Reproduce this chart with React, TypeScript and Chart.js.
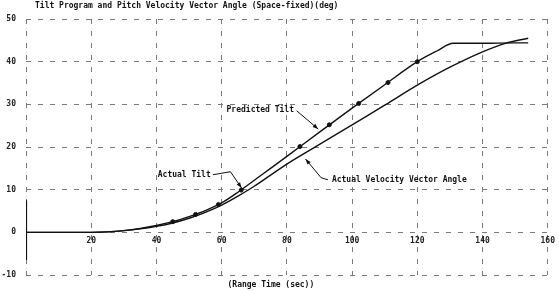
import React, { useEffect, useRef } from 'react';
import { Chart, registerables } from 'chart.js';
Chart.register(...registerables);

// Range time (sec) and angles (deg)
const tiltTime = [0, 10, 20, 25, 30, 35, 40, 45, 50, 55, 60, 65, 70, 75, 80, 90, 100, 110, 120, 126, 131, 140, 150, 154];
const predictedTilt = [0, 0, 0, 0.1, 0.4, 0.9, 1.6, 2.5, 3.7, 5.1, 6.9, 9.4, 12.2, 15.0, 17.8, 23.5, 29.1, 34.6, 40.0, 42.5, 44.3, 44.3, 44.4, 44.4];

const velTime = [0, 20, 25, 30, 35, 40, 45, 50, 55, 60, 65, 70, 75, 80, 90, 100, 110, 120, 130, 140, 147, 154];
const velocityAngle = [0, 0, 0.1, 0.4, 0.8, 1.4, 2.2, 3.3, 4.7, 6.4, 8.5, 10.8, 13.4, 16.0, 20.6, 25.2, 29.8, 34.5, 38.7, 42.3, 44.3, 45.5];

const actualTiltTime = [45, 52, 59, 66, 84, 93, 102, 111, 120];
const actualTilt = [2.5, 4.2, 6.5, 9.9, 20.1, 25.2, 30.2, 35.1, 40.0];

const liftoffMarkTime = [0, 0];
const liftoffMarkAngle = [7.5, -6.5];

const yTicks = [-10, 0, 10, 20, 30, 40, 50];
const xTicks = [0, 20, 40, 60, 80, 100, 120, 140, 160];

const titleText = 'Tilt Program and Pitch Velocity Vector Angle (Space-fixed)(deg)';
const xTitleText = '(Range Time (sec))';

const FONT = "bold 8px 'DejaVu Sans Mono', monospace";

const zip = (xs: number[], ys: number[]) => xs.map((x, i) => ({ x, y: ys[i] }));

export default function App() {
  const ref = useRef<HTMLCanvasElement>(null);
  useEffect(() => {
    document.body.style.margin = '0';
    const canvas = ref.current!;

    const annotations = [
      { text: 'Predicted Tilt', at: [61.5, 28.7], path: [[83, 28.5], [89.6, 24.2]] },
      { text: 'Actual Tilt', at: [40.4, 13.5], path: [[57.3, 13.5], [62.7, 14.2], [66.1, 10.4]] },
      { text: 'Actual Velocity Vector Angle', at: [93.8, 12.3], path: [[92.6, 12.3], [90.5, 12.8], [85.7, 17.2]] },
    ];

    const annot = {
      id: 'annot',
      afterDatasetsDraw(chart: any) {
        const { ctx, scales, chartArea } = chart;
        const xs = scales.x, ys = scales.y;
        ctx.save();
        ctx.fillStyle = '#111';
        ctx.strokeStyle = '#111';
        ctx.font = FONT;
        ctx.textBaseline = 'middle';
        ctx.textAlign = 'left';
        ctx.fillText(titleText, 35, 6);
        ctx.textAlign = 'center';
        ctx.fillText(xTitleText, (chartArea.left + chartArea.right) / 2 - 16, chartArea.bottom + 10);
        ctx.textAlign = 'left';
        for (const a of annotations) {
          const tx = xs.getPixelForValue(a.at[0]);
          const ty = ys.getPixelForValue(a.at[1]);
          ctx.fillText(a.text, tx, ty);
          const pts = a.path.map((p) => [xs.getPixelForValue(p[0]), ys.getPixelForValue(p[1])]);
          ctx.lineWidth = 1;
          ctx.beginPath();
          ctx.moveTo(pts[0][0], pts[0][1]);
          for (let i = 1; i < pts.length; i++) ctx.lineTo(pts[i][0], pts[i][1]);
          ctx.stroke();
          const n = pts.length;
          const [x1, y1] = pts[n - 2];
          const [x2, y2] = pts[n - 1];
          const ang = Math.atan2(y2 - y1, x2 - x1);
          const L = 6, W = 0.35;
          ctx.beginPath();
          ctx.moveTo(x2, y2);
          ctx.lineTo(x2 - L * Math.cos(ang - W), y2 - L * Math.sin(ang - W));
          ctx.lineTo(x2 - L * Math.cos(ang + W), y2 - L * Math.sin(ang + W));
          ctx.closePath();
          ctx.fill();
        }
        ctx.restore();
      },
    };

    const chart = new Chart(canvas, {
      type: 'line',
      data: {
        datasets: [
          {
            label: 'Predicted Tilt',
            data: zip(tiltTime, predictedTilt),
            borderColor: '#111',
            borderWidth: 1.4,
            pointRadius: 0,
            cubicInterpolationMode: 'monotone',
            fill: false,
          },
          {
            label: 'Actual Velocity Vector Angle',
            data: zip(velTime, velocityAngle),
            borderColor: '#111',
            borderWidth: 1.4,
            pointRadius: 0,
            cubicInterpolationMode: 'monotone',
            fill: false,
          },
          {
            label: 'Actual Tilt',
            data: zip(actualTiltTime, actualTilt),
            showLine: false,
            pointRadius: 2,
            pointBackgroundColor: '#111',
            pointBorderColor: '#111',
          },
          {
            label: 'Liftoff',
            data: zip(liftoffMarkTime, liftoffMarkAngle),
            borderColor: '#111',
            borderWidth: 2.2,
            pointRadius: 0,
          },
        ],
      } as any,
      options: {
        animation: false,
        responsive: false,
        events: [],
        layout: { padding: { top: 19, bottom: 16, left: 0, right: 3 } },
        plugins: { legend: { display: false }, tooltip: { enabled: false }, title: { display: false } },
        scales: {
          x: {
            type: 'linear',
            min: 0,
            max: 160,
            position: { y: 0 } as any,
            afterBuildTicks: (s: any) => { s.ticks = xTicks.map((v) => ({ value: v })); },
            ticks: {
              autoSkip: false,
              maxRotation: 0,
              padding: 4,
              color: '#222',
              font: { family: "'DejaVu Sans Mono', monospace", size: 8, weight: 'bold' },
              callback: (v: any) => (v === 0 ? '' : String(v)),
            },
            grid: { color: '#7a7a7a', lineWidth: 1, drawTicks: false },
            border: { display: false, dash: [5, 7] },
          },
          y: {
            type: 'linear',
            min: -10,
            max: 50,
            afterBuildTicks: (s: any) => { s.ticks = yTicks.map((v) => ({ value: v })); },
            afterFit: (s: any) => { s.width = 26; },
            ticks: {
              padding: 10,
              color: '#222',
              font: { family: "'DejaVu Sans Mono', monospace", size: 8, weight: 'bold' },
            },
            grid: { color: '#7a7a7a', lineWidth: 1, drawTicks: false },
            border: { display: false, dash: [5, 7] },
          },
        },
      } as any,
      plugins: [annot],
    });
    return () => chart.destroy();
  }, []);
  return (
    <div style={{ width: 559, height: 291, background: '#fff' }}>
      <canvas ref={ref} width={559} height={291} style={{ display: 'block' }} />
    </div>
  );
}
